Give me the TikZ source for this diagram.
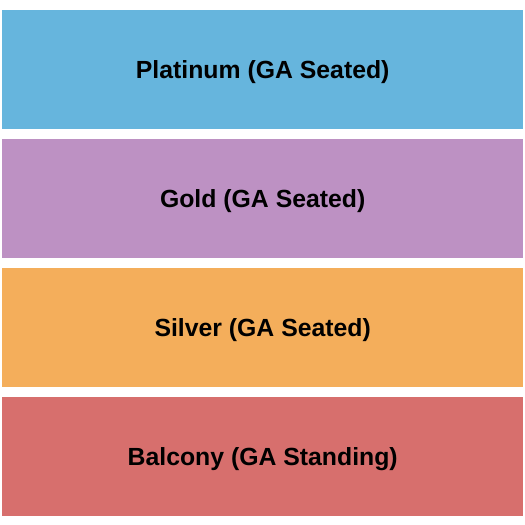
\documentclass[tikz,border=0pt]{standalone}
\usepackage{fontspec}
\setmainfont{Liberation Sans}
\definecolor{plat}{HTML}{66B5DD}
\definecolor{gold}{HTML}{BD91C3}
\definecolor{silv}{HTML}{F4AE5B}
\definecolor{balc}{HTML}{D76F6D}
\begin{document}
\begin{tikzpicture}[x=1pt,y=1pt,
  sect/.style={draw=none,minimum width=521pt,minimum height=118.5pt,inner sep=0pt,anchor=north west},
  lab/.style={font=\fontsize{24.8}{28}\selectfont\bfseries,text=black,inner sep=0pt,yshift=-3pt}]
\useasboundingbox (0,0) rectangle (525,525);
\node[sect,fill=plat] (plat) at (2,515) {};
\node[sect,fill=gold] (gold) at (2,386) {};
\node[sect,fill=silv] (silv) at (2,257) {};
\node[sect,fill=balc] (balc) at (2,128) {};
\node[lab] (platl) at (plat.center) {Platinum (GA Seated)};
\node[lab] (goldl) at (gold.center) {Gold (GA Seated)};
\node[lab] (silvl) at (silv.center) {Silver (GA Seated)};
\node[lab] (balcl) at (balc.center) {Balcony (GA Standing)};
\end{tikzpicture}
\end{document}
